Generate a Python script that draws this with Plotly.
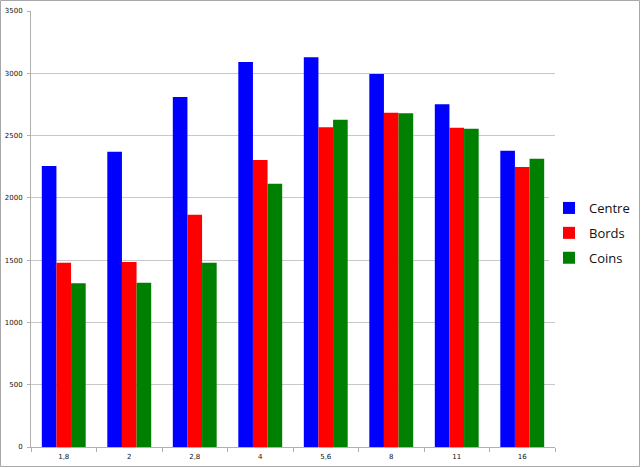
import plotly.graph_objects as go

categories = ["1,8", "2", "2,8", "4", "5,6", "8", "11", "16"]
centre = [2256, 2370, 2810, 3091, 3128, 2994, 2751, 2379]
bords = [1480, 1485, 1865, 2304, 2566, 2684, 2563, 2248]
coins = [1314, 1319, 1480, 2114, 2628, 2679, 2555, 2314]

series = [("Centre", centre, "#0000FF"), ("Bords", bords, "#FF0000"), ("Coins", coins, "#008000")]

fig = go.Figure()
for name, vals, col in series:
    fig.add_trace(go.Bar(x=categories, y=vals, name=name, legendgroup=name,
                         marker=dict(color=col, line=dict(width=0))))

W, H = 641, 468
L, R, T, B = 31, 86, 11, 21
pw, ph = W - L - R, H - T - B

fig.update_layout(
    width=W, height=H,
    margin=dict(l=L, r=R, t=T, b=B, autoexpand=False),
    paper_bgcolor="white", plot_bgcolor="white",
    barmode="group", bargap=0.33, bargroupgap=0,
    font=dict(family="DejaVu Sans", size=7, color="#111"),
    legend=dict(x=(549 - L) / pw, y=(H - B - 233) / ph, xanchor="left", yanchor="middle",
                font=dict(family="Open Sans", size=13, color="#111"),
                tracegroupgap=5, itemwidth=30),
    xaxis=dict(showline=True, linecolor="#b0b0b0", linewidth=1, automargin=False,
               ticks="outside", tickson="boundaries", ticklen=4, tickcolor="#b0b0b0",
               ticklabelstandoff=3,
               tickfont=dict(size=7), showgrid=False),
    yaxis=dict(range=[0, 3500], dtick=500, showline=True, linecolor="#b0b0b0", linewidth=1,
               automargin=False,
               ticks="outside", ticklen=3, tickcolor="#b0b0b0", ticklabelstandoff=3,
               gridcolor="#c8c8c8", gridwidth=1, tickfont=dict(size=7), zeroline=False),
    shapes=[dict(type="rect", xref="paper", yref="paper",
                 x0=-(L - 0.5) / pw, x1=(W - L - 1.5) / pw,
                 y0=-(B - 1.5) / ph, y1=(H - B - 0.5) / ph,
                 line=dict(color="#a8a8a8", width=1), layer="below")],
)

fig.write_html("out.html", config={"displayModeBar": False},
               post_script="document.body.style.margin='0';document.body.style.overflow='hidden';")
